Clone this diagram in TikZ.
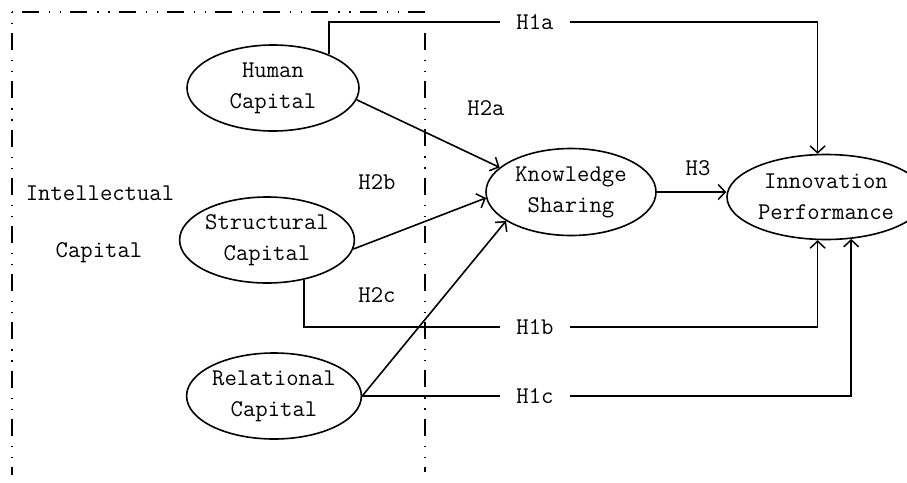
\documentclass[tikz,border=0pt]{standalone}
\usepackage{fontspec}
\usetikzlibrary{arrows.meta,shapes.geometric}
\tikzset{
  lbl/.style={font=\ttfamily\fontsize{24}{31}\selectfont, inner sep=0pt},
  ell/.style={ellipse, draw, line width=1.6pt, inner sep=0pt, align=center,
              font=\ttfamily\fontsize{24}{31}\selectfont},
  hlbl/.style={lbl, fill=white, inner xsep=16pt, inner ysep=4pt},
  conn/.style={line width=1.6pt},
  arr/.style={conn, -{Straight Barb[length=7pt,width=15pt,line width=1.5pt]}},
  dashdot/.style={line width=1.1pt, dash pattern=on 17pt off 10pt on 1.2pt off 9.8pt on 1.2pt off 9pt}
}
\begin{document}
\begin{tikzpicture}[x=1pt,y=1pt]
\useasboundingbox (0,0) rectangle (907,-482);
% dash-dot frame
\coordinate (f1) at (12,-12);
\coordinate (f2) at (425,-12);
\coordinate (f3) at (12,-475);
\coordinate (f4) at (425,-33);
\coordinate (f5) at (425,-472);
\draw[dashdot, dash phase=38pt] (f1) -- (f2);
\draw[dashdot, dash phase=27pt] (f1) -- (f3);
\draw[dashdot] (f4) -- (f5);

% nodes
\node[ell, minimum width=172pt, minimum height=86pt] (hc) at (273,-88) {Human\\Capital};
\node[ell, minimum width=170pt, minimum height=86pt] (sc) at (267,-240) {Structural\\Capital};
\node[ell, minimum width=172pt, minimum height=86pt] (rc) at (274,-396) {Relational\\Capital};
\node[ell, minimum width=170pt, minimum height=87pt] (ks) at (571,-192) {Knowledge\\Sharing};
\node[ell, minimum width=160pt, minimum height=85pt, text width=140pt] (ip) at (826,-197) {Innovation\\Performance};

\node[lbl] (ic1) at (100,-193) {Intellectual};
\node[lbl] (ic2) at (99,-253) {Capital};

\node[lbl] (h2a) at (486,-108) {H2a};
\node[lbl] (h2b) at (377,-182) {H2b};
\node[lbl] (h2c) at (377,-295) {H2c};
\node[lbl] (h3)  at (698,-168) {H3};
\node[hlbl] (h1a) at (535,-22) {H1a};
\node[hlbl] (h1b) at (535,-327) {H1b};
\node[hlbl] (h1c) at (535,-396) {H1c};

% connectors
\draw[conn] (hc.31) |- (h1a.west);
\draw[arr] (h1a.east) -| (ip.101);
\draw[conn] (sc.-47) |- (h1b.west);
\draw[arr] (h1b.east) -| (ip.-101);
\draw[conn] (rc.east) -- (h1c.west);
\draw[arr] (h1c.east) -| (ip.-59);

\draw[arr] (hc.-8) -- (ks.161);
\draw[arr] (sc.-6) -- (ks.184);
\draw[arr] (rc.east) -- (ks.204);
\draw[arr] (ks.east) -- (ks.east -| ip.west);
\end{tikzpicture}
\end{document}
